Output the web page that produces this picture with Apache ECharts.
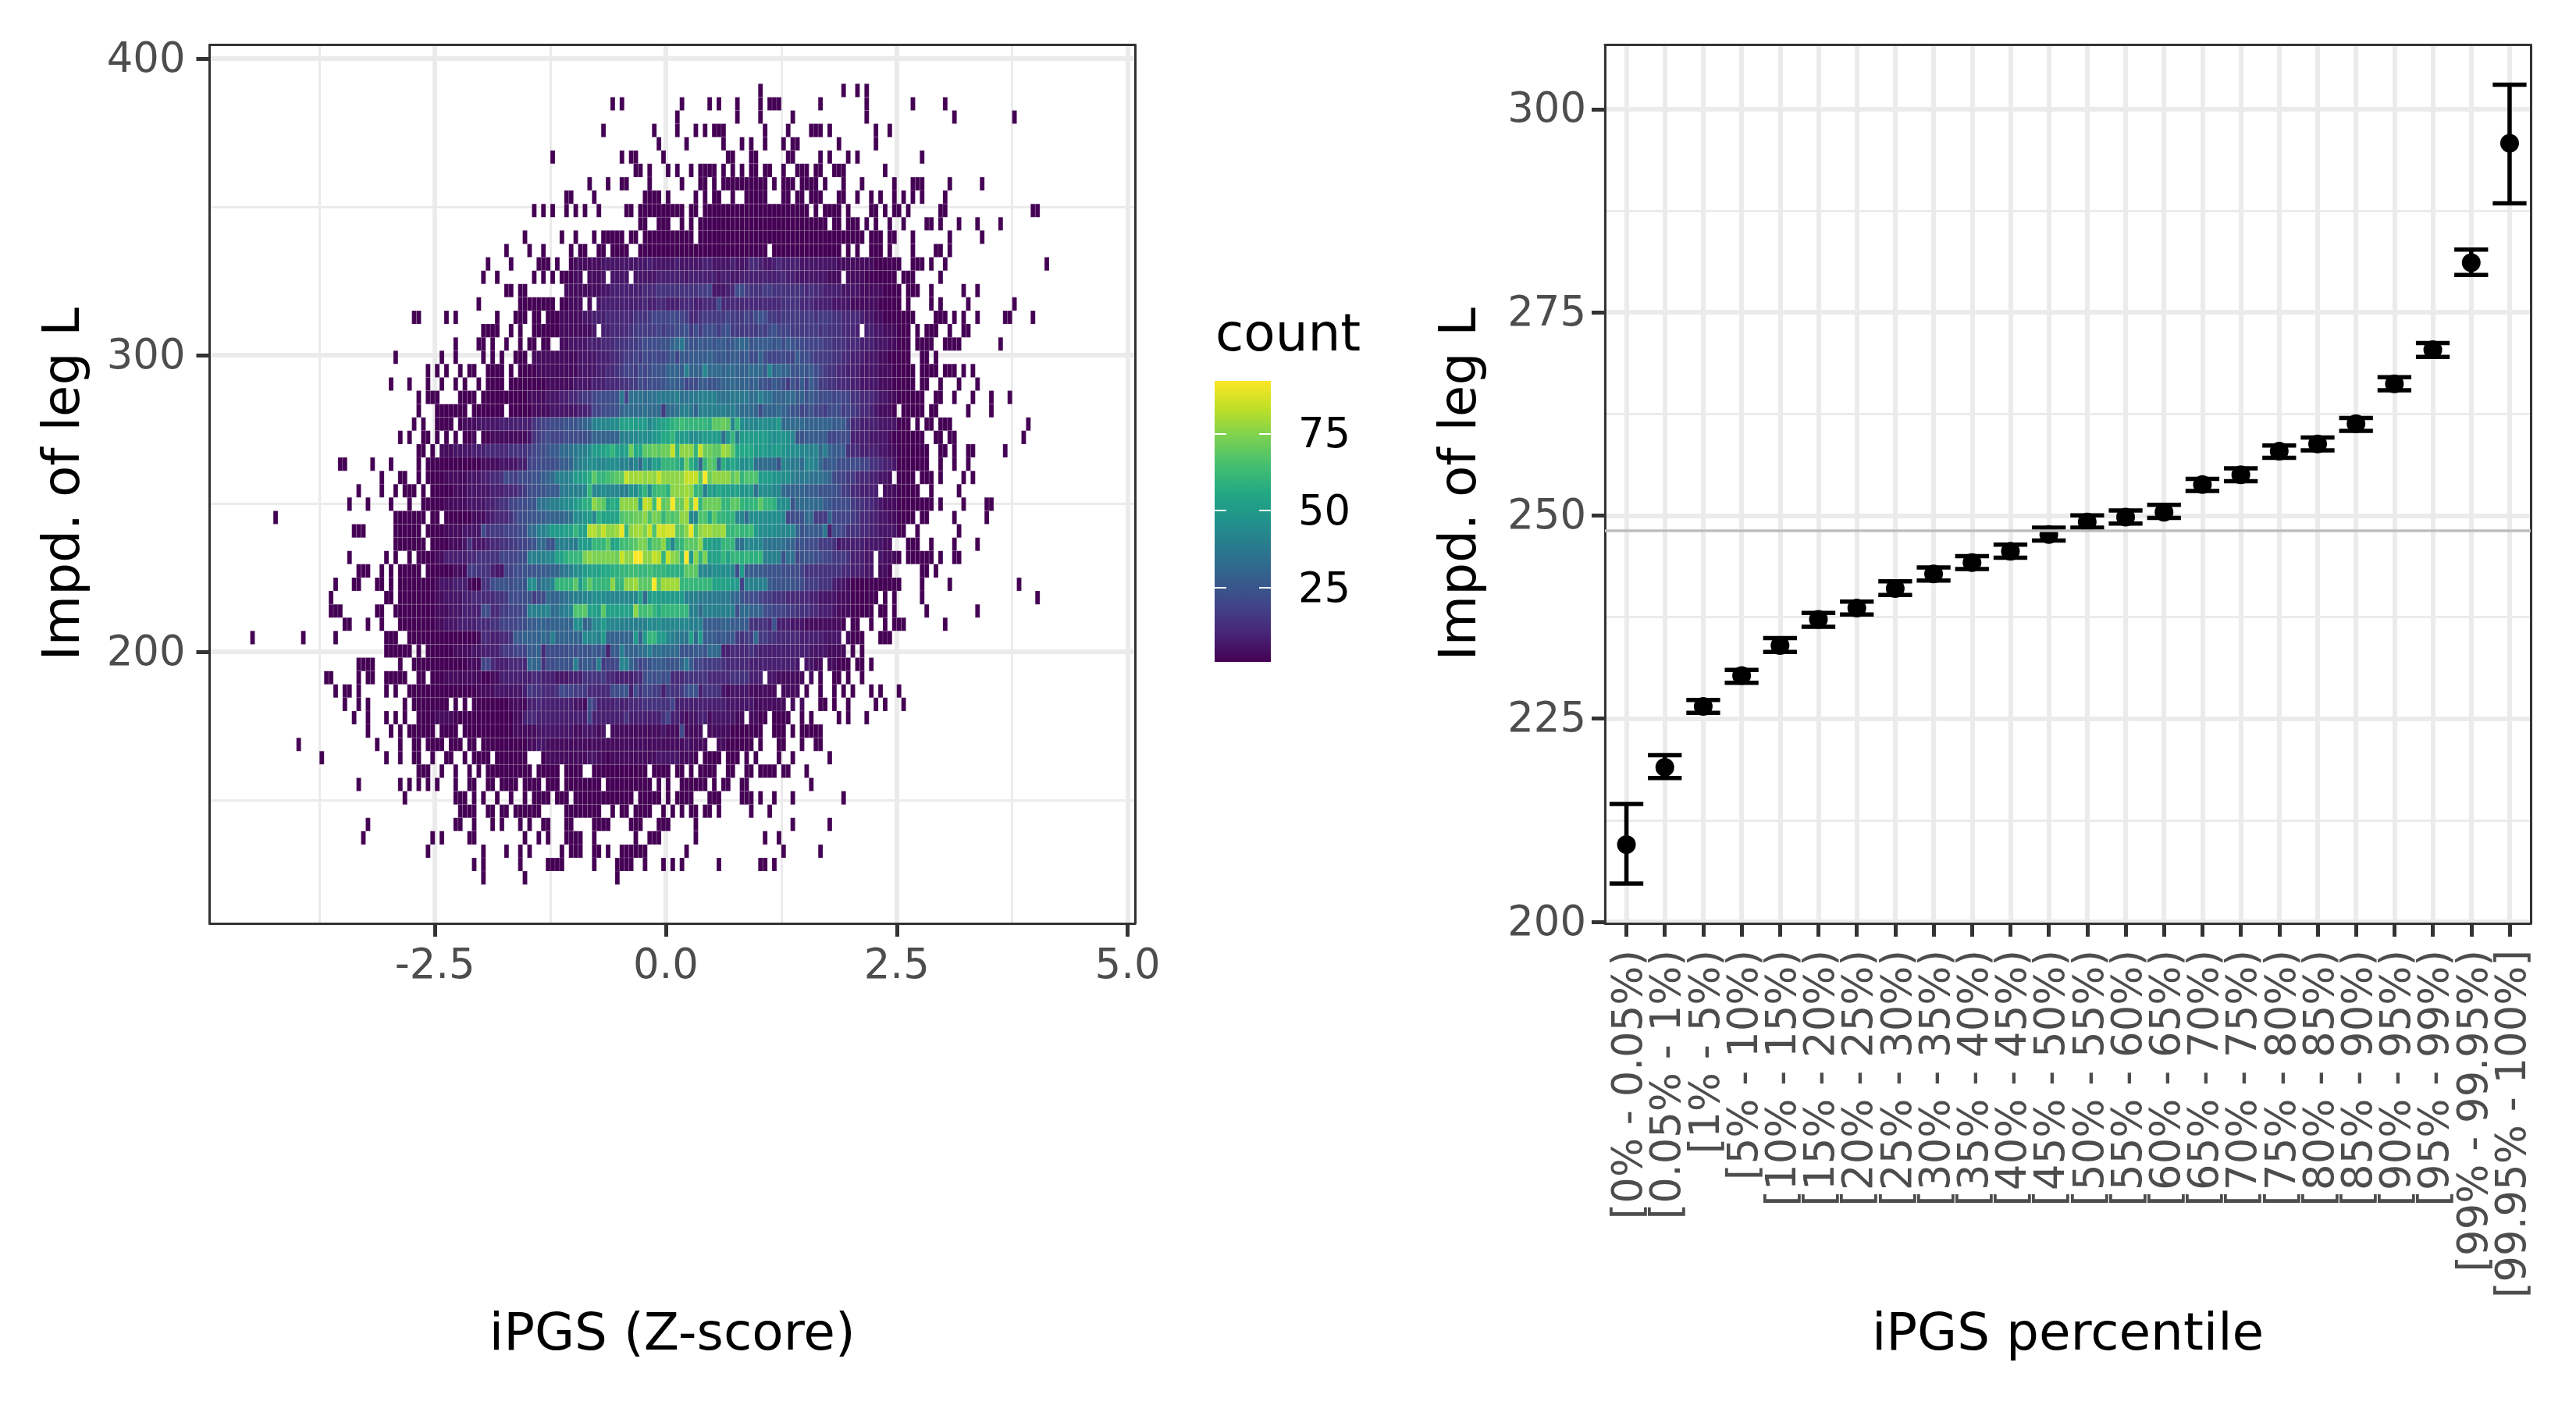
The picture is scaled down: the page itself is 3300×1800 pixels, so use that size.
<!DOCTYPE html>
<html>
<head>
<meta charset="utf-8">
<style>html,body{margin:0;padding:0;background:#fff}#c{width:3300px;height:1800px}</style>
<script src="https://cdn.jsdelivr.net/npm/echarts@6/dist/echarts.min.js"></script>
</head>
<body>
<div id="c"></div>
<script>
// ---------- right panel data ----------
const categories = ["[0% - 0.05%)","[0.05% - 1%)","[1% - 5%)","[5% - 10%)","[10% - 15%)","[15% - 20%)","[20% - 25%)","[25% - 30%)","[30% - 35%)","[35% - 40%)","[40% - 45%)","[45% - 50%)","[50% - 55%)","[55% - 60%)","[60% - 65%)","[65% - 70%)","[70% - 75%)","[75% - 80%)","[80% - 85%)","[85% - 90%)","[90% - 95%)","[95% - 99%)","[99% - 99.95%)","[99.95% - 100%]"];
const means  = [209.5,219.0,226.5,230.3,234.0,237.2,238.6,241.0,242.8,244.2,245.6,247.65,249.2,249.8,250.4,253.8,255.0,257.9,258.8,261.3,266.2,270.4,281.1,295.8];
const lowers = [204.7,217.7,225.7,229.4,233.2,236.3,237.8,240.2,242.0,243.4,244.8,246.9,248.5,249.0,249.7,253.0,254.2,257.1,258.0,260.4,265.4,269.5,279.6,288.4];
const uppers = [214.5,220.5,227.3,231.0,234.9,238.0,239.4,241.9,243.6,245.0,246.4,248.5,250.0,250.6,251.3,254.5,255.8,258.6,259.6,262.0,267.0,271.2,282.7,303.0];
const meanLine = 248.1;

// ---------- left panel data: bin geometry ----------
const binWidthX = 0.05, binHeightY = 4.5, topEdgeY = 391.5;
// filled columns of each row (top row first); column c spans [c*0.05,(c+1)*0.05]
const heatCells = [
"20 38 41 43",
"-12 -10 3 9 11 15 20 22 23 24 33 43 53 60",
"2 15 20 27 43 62 75",
"-14 -3 2 6 8 10 11 12 21 26 31 32 33 35 45 48",
"-2 4 12 16 18 21 25 27 28 37 45",
"-25 -10 -8 -7 -1 13 14 18 19 26 27 33 35 39 41 55",
"-7 -6 -4 0 2 5 7..10 12 14 16 18 19 21 22 25 28..30 32 33 36..38 47",
"-17 -13 -10 -9 -4 3 7 8 10 12..21 23 25..27 29..32 34 38 42 49 53..55 61 68",
"-22 -21 -16 -5..-2 0 6 8 10 11 14 17..21 25 26 28 29 31..33 37 38 41 44 46 49 51 53 55 60",
"-29 -27 -25 -22 -20 -18 -15 -9 -8 -6..3 5 6 8..30 32 34..37 39 44 45 47 49 50 52 59 60 79 80",
"-6 -5 -2..0 3 5 7..34 36 37 39..41 43 45 48 51 56 57 59 63 67 72",
"-31 -23 -20 -16 -14..-10 -8 -7 -5..5 7..42 44..46 48 49 53 61 68",
"-35 -30 -27 -21 -19 -18 -15 -14 -12..-9 -6..21 23..37 39 41 44..46 48 53 58 59 61",
"-39 -34 -28..-26 -24 -21..50 53..55 57 60 82",
"-40 -37 -29 -27 -25 -23..-19 -17..-14 -12..-9 -7..37 39..49 51..53 59",
"-35 -34 -32 -31 -22..50 52..54 57 64 67",
"-41 -32..-25 -23..-19 -17 -15..50 52 57 59 65 75",
"-55 -54 -48 -46 -37 -33..-31 -29 -28 -26..53 58..60 62 64 67 73 74 79",
"-40..-37 -34 -32 -29..-16 -14..41 43..52 54 56..58 61 64 65",
"-46 -41 -40 -38 -35 -32 -30 -29 -27 -26 -23..52 54..57 60..63 72",
"-59 -49 -46 -40 -38 -36 -33..-31 -29..52 55 56 58",
"-52 -50 -48 -45 -43 -42 -39..-36 -34 -32..53 55..58 60..62 64 66",
"-60 -56 -52 -49 -46 -44 -41 -39..-36 -34..53 55 56 59 63 67",
"-54 -52..-50 -45..-42 -40..55 58 59 62 66 70 74",
"-54 -50..-44 -42..-36 -34..49 51..55 57 58 65 70",
"-55 -53 -50..-47 -45..52 54 56 57 59..61 78",
"-58 -56 -53 -52 -50 -48 -46 -44..-42 -40..55 58 59 61 62 77",
"-54 -53 -51 -49..56 59 60 62 65 66 73",
"-71 -70 -64 -60 -54 -52..56 59 62 65",
"-62 -58 -57 -54 -52..48 50..53 55..57 59 64 66",
"-67 -62 -59 -57..-55 -53 -51..45 47..54 57 63",
"-69 -65 -60 -56 -53..57 59 64 69 70",
"-85 -59..-53 -51 -50 -48..53 55 56 62 69",
"-68..-66 -59..-54 -52..51 54 63",
"-59..-53 -51..48 52..54 57 62 67",
"-69 -61 -59 -56 -54..44 46..50 52..57 59 62 63",
"-67..-65 -62 -60 -58..-54 -52..44 46..48 55 56 58",
"-72 -68 -67 -63 -62 -60 -58..50 55 61 76",
"-73 -61 -60 -58..45 47 49 55 80",
"-73..-71 -63 -62 -59..44 46 47 49 56 67",
"-70 -69 -65 -62 -58..38 40 41 44 47 49..51 60",
"-90 -79 -72 -61..-59 -56..37 39..42 46..48",
"-61..-56 -54 -52..38 40 42",
"-67..-64 -58 -55..28 30..33 35..39 41 42 44",
"-74 -73 -67 -65 -64 -61..-57 -54 -53 -51..20 22..29 31 33 36 37 39 42",
"-72 -70 -69 -67 -61 -59 -56..23 25..28 30 33 36 38 40 44 46 50",
"-70 -67 -65 -57 -55..-48 -46 -44 -42..25 27 29 33 34 36 39 45 47 51",
"-68 -65 -61 -59 -57 -54..16 18..21 23..26 29 31 37 39 43",
"-65 -60 -58 -56..-51 -49..-46 -44..-14 -12..7 9..20 23..25 27 29..33",
"-80 -63 -58 -55 -54 -52..-49 -47..-45 -43 -42 -40..8 11..18 20 24 25 29 32 33",
"-75 -61 -58 -55 -54 -51 -48 -47 -44 -42..-39 -37..-31 -27..6 8..11 13..15 17 19 24 27 35",
"-54..-52 -49 -46 -43 -41 -39..-30 -28..-24 -22..-19 -16..-5 -3..0 2 3 5 7..10 13 14 17 18 20..23 25 26 30",
"-67 -58 -56 -54 -52 -50 -46 -43 -42 -39 -38 -36..-33 -31..-28 -26..-24 -22..-15 -13..-4 -2 0 3..8 10 12 13 16 17 31",
"-57 -46..-44 -42 -40 -37 -34 -31 -29..-26 -24..-22 -20..-8 -6..-2 0 2..5 9..11 16..18 20 23 27 38",
"-45..-42 -39 -38 -36 -35 -33..-28 -22..-15 -12 -10 -9 -7..-4 -1 1 3 5 6 8 9 11 18 22",
"-65 -46 -45 -42 -38 -36 -32 -30 -27 -26 -22 -21 -16..-13 -8..-6 -2..0 6 27 35",
"-66 -51 -49 -43 -42 -31 -28 -26 -22..-19 -16 -7 -4..-2 6 21 24",
"-52 -40 -35 -32 -30 -23 -21..-19 -16 -15 -13 -10..-5 4 25 33",
"-42 -40 -32 -26..-23 -16 -11..-8 -5 -1 1 3 11 20 21 23",
"-40 -31 -11"
];
// colour level read per cell, base-36 (0 = 1 count ... z = 92 counts);
// each word is ten columns, first word starts at column -50
const levelStep = 2.6;
const heatLevels = {
13:"0000000000 0000000000 0000000000 1111112222 2222223222 2232222233 2222322244 3223433332 2222222111 1111100000",
14:"0000000000 0000000000 0000000000 1111112222 2222222233 3333233333 3233223333 3333343322 2222211111 1110000000",
15:"0000000000 0000000000 0000000011 1111112233 3333344455 5555555667 2223488655 5665555555 4544333322 2211111000",
16:"0000000000 0000000000 0000000001 1111223333 3333343344 3334443344 4844444444 4444455554 4433332222 1111110000",
17:"0000000000 0000000000 0000000111 1122333444 4445556777 7877644566 6667666768 9866566666 6656665544 4432211000",
18:"0000000000 0000000000 0000000111 1111223344 4456666676 7788968688 8689666666 7689777666 6665655544 4333322111",
19:"0000000000 0000000000 0000001112 2223334445 5566788889 9bcea99a9a 9aa9abcb9a aaa9a8a988 7777665554 4433322211",
20:"0000000000 0000000000 0111111111 1222233344 5667687877 8a7a9aaaab a9a9aa9a88 b8777877a8 8766665544 3332221100",
21:"0000000000 0000000000 0011111111 1222233445 6776878999 bbbafbbbgc ccbccbbbcc cagbcbb99a 9a87655443 3322221110",
22:"0000000000 0000000000 0000111111 2222333444 5566878889 abaa788aa9 9abbcbbbab 998a98697a 7a86655444 3322221110",
23:"0000000000 0000000000 1111222334 4566788889 e7dddcddee eefddeefff fdddeeeecd fddbbbccab 9a98887877 5544432211",
24:"0000000000 0000000000 0111122222 2334778889 bccccdccc6 ccdffebfff fffefdcccb 8bbbcba997 8977688867 6544321110",
25:"0000001112 2222333333 3567788899 9abcfggghh kkkjjjgijk lmnonnnnnm qqrqgnhggg hhhhjccccc bbbbbbaaa7 4433332222",
26:"0000000011 0011111111 2567877788 8889bbbbbb ffgghhhijl lnjjjhhijj jjdinfjjjj jjihiihg99 aaaaa77888 3333222210",
27:"0111222233 3444445555 67889aaccd effhjjklnk jkrllqqrqr rwntttnwrr qqutqllllj jjijjihhhg gfgcfbaaa5 4433332211",
28:"0000000000 1111222233 7788889aab efghhgghhh fgegcjgkjn nnmkrmjcnq pdmjljhhjd cccc9gfeec ggfc9aa888 8877554332",
29:"0011111222 3344587688 899abcfffg jjkmqnnopq qwuuututwt ttttwwwqzr ttttqsnppp jjjiihhfee edddcb8776 6444332211",
30:"0000111222 2233344456 8899aaaeef ffgngghggg ffihknhnoo mtttutnnfk jlkkjkiijd hhhggcbbbb aaa9999866 4433332111",
31:"0011111222 2334557788 99ddeffghh jkmmtrqkml ttttkwvoyq rzrrwqynrr rrnnqqnmnn qnnmhhh9cc cccca98888 6554432111",
32:"0000000011 1234445788 99aabbbbcd hhijgmkkkk pqqrrtpsrn qpqttggppl qnnmnggchh hhhhhg7889 cc666b7777 6544332211",
33:"0011112222 8566677788 ccffhjjjkk nkkvvtwttu yntuuswpxw xxqqtyptuu ttunnonnoj hhhhggggb9 aaaae38875 5544332222",
34:"0001112522 2344556677 89cc99ffff ejjjnnnqkl oopqssnqqt mgnnqqqtkk jjnnnddggg gdddddbb89 8886665233 3332222111",
35:"1133333445 5555777788 ffffggkkmn nnstsssssr wttzzttwvn wtsnzjtnsk kknknnmnmm nffff9dd79 9988776665 3332222111",
36:"0000111665 5532277889 99aaabbdef hhjkkkllmm nnoonnonnn mmmmqqqggg hhhhg8jaaa a999988887 5555555544 3332221100",
37:"1222333100 5589998999 hhceegnnnn qjnqnnnntn nttuqqqzqu uuunnnnnnn kkkkjj7fff ffa9999988 6665553221",
38:"1122223344 4445568888 9688cbbcde ffgghhhggg ggggkcjkjj jjjjfffeee eeeecb9888 7665554444 4332222111",
39:"1112223333 8844667778 ffffgcdefg ppqkkjqkkk kkktoopnln nnnnnffcff fffff8ccbb b887776655 5443332111",
40:"1122233334 4455777788 aabbabbbbb hhbcghjggg ffffffhghg gggggfffaa aabbaaaa55 5549333222 1111111100",
41:"0000000001 4433445aab bbbcbfbbbb bbhggfjbbb bbbjbjnnjj gfeedkcjaa a9a9a6566c 6655444443 3333222211",
42:"0000111122 3333566777 aab4888889 8999a9a3aa fbbbcdfcdc ccc999aa9c cc33444454 3333333333 3222211111",
43:"0000000111 7743334444 cbb5889999 f9aa9f6778 gfb9789aaa 999bea7766 6654444433 3333333322 2211111000",
44:"0011111111 0011333333 3443332223 3355556443 3334489898 9444555554 4444555533 3222111111 1100000000",
45:"0000000001 1112222223 6554445877 6664444488 9938577663 6556899355 5521222211 1111111111",
46:"0000000000 0000001111 3343333333 2218633334 3344455555 5733333333 3332222221 1111111111",
47:"1111000000 0000000113 4433333333 3337333333 3533333335 7332122331 2222211211",
48:"0000000000 0000000111 1122222222 1122212211 1111111112 1118111111 1111000000",
49:"0000000000 0000000000 1122111111 1111111111 1111111111 1111211111 1110000000",
50:"0000000000 0000000000 0000111111 1112211011 1111111122 2221110000"
};

// ---------- tick / scale lists ----------
const leftXMajor = [-2.5,0,2.5,5];
const leftXMinor = [-3.75,-1.25,1.25,3.75];
const leftYMajor = [200,300,400];
const leftYMinor = [150,250,350];
const rightYMajor = [200,225,250,275,300];
const rightYMinor = [212.5,237.5,262.5,287.5];
const legendTicks = [25,50,75];
const countMin = 1, countMax = 92;
const viridis = ["#440154","#482475","#414487","#355f8d","#2a788e","#21918c","#22a884","#44bf70","#7ad151","#bddf26","#fde725"];

// ---------- decode the hand-read rows ----------
function levelAt(row, col){
  const words = heatLevels[row];
  if(!words) return 0;
  const w = words.split(' ')[Math.floor((col+50)/10)];
  if(col < -50 || !w) return 0;
  const ch = w[(col+50)%10];
  return ch ? parseInt(ch,36) : 0;
}
const heatData = [];
heatCells.forEach((line,row)=>{
  line.split(' ').forEach(tok=>{
    const p = tok.split('..').map(Number);
    const a = p[0], b = p.length>1 ? p[1] : p[0];
    for(let c=a;c<=b;c++){
      heatData.push([(c+0.5)*binWidthX, topEdgeY-binHeightY*(row+0.5), 1+levelStep*levelAt(row,c)]);
    }
  });
});

const FONT = "'DejaVu Sans'";
const GREY = "#4D4D4D", DARK = "#333333", GRID = "#EBEBEB";
const TITLE = 66, TICK = 52.8;
const xTickVals = categories.map((_,i)=>i+1);

function mainAxis(extra){
  return Object.assign({
    type:'value', silent:true,
    axisLine:{show:true,onZero:false,lineStyle:{color:DARK,width:3}},
    axisTick:{show:true,length:17,lineStyle:{color:DARK,width:5}},
    axisLabel:{show:true,fontFamily:FONT,fontSize:TICK,color:GREY,margin:30,hideOverlap:false},
    splitLine:{show:true,lineStyle:{color:GRID,width:6}},
    nameLocation:'middle',
    nameTextStyle:{fontFamily:FONT,fontSize:TITLE,color:'#000'}
  },extra);
}
function minorAxis(extra,vals){
  return Object.assign({
    type:'value', silent:true,
    axisLine:{show:true,onZero:false,lineStyle:{color:DARK,width:3}},
    axisTick:{show:false,customValues:vals},
    axisLabel:{show:false,customValues:vals},
    splitLine:{show:true,lineStyle:{color:GRID,width:3}}
  },extra);
}
function withCustom(ax,vals){ ax.axisTick.customValues=vals; ax.axisLabel.customValues=vals; return ax; }

const option = {
  animation:false,
  backgroundColor:'#fff',
  textStyle:{fontFamily:FONT},
  title:{text:'count',left:1552,top:394,textStyle:{fontFamily:FONT,fontSize:TITLE,fontWeight:'normal',color:'#000'}},
  grid:[
    {left:268.5,top:57.5,width:1185.5,height:1125.5},
    {left:2056,top:57.5,width:1186,height:1125.5},
    {left:1556,top:488,width:72,height:360},
    {left:2058.9,top:57.5,width:1180.8,height:1125.5}
  ],
  visualMap:[{show:false,type:'continuous',seriesIndex:0,dimension:2,min:countMin,max:countMax,inRange:{color:viridis}}],
  xAxis:[
    withCustom(mainAxis({gridIndex:0,min:-4.94,max:5.08,name:'iPGS (Z-score)',nameGap:496,position:'bottom'}),leftXMajor),
    minorAxis({gridIndex:0,min:-4.94,max:5.08,position:'top'},leftXMinor),
    withCustom(mainAxis({gridIndex:1,min:0.44,max:24.55,name:'iPGS percentile',nameGap:496,position:'bottom',splitLine:{show:true,lineStyle:{color:GRID,width:6}}}),xTickVals),
    minorAxis({gridIndex:1,min:0.44,max:24.55,position:'top',splitLine:{show:false}},[]),
    {type:'category',gridIndex:2,data:['count'],show:false},
    {type:'category',gridIndex:3,data:categories,position:'bottom',silent:true,boundaryGap:true,
      axisLine:{show:false},splitLine:{show:false},
      axisTick:{show:true,alignWithLabel:true,interval:0,length:17,lineStyle:{color:DARK,width:5}},
      axisLabel:{show:true,interval:0,rotate:90,margin:34,fontFamily:FONT,fontSize:TICK,color:GREY,hideOverlap:false,verticalAlign:'top',lineHeight:12}}
  ],
  yAxis:[
    withCustom(mainAxis({gridIndex:0,min:108.4,max:404.6,name:'Impd. of leg L',nameGap:152,position:'left'}),leftYMajor),
    minorAxis({gridIndex:0,min:108.4,max:404.6,position:'right'},leftYMinor),
    withCustom(mainAxis({gridIndex:1,min:199.8,max:307.9,name:'Impd. of leg L',nameGap:150,position:'left'}),rightYMajor),
    minorAxis({gridIndex:1,min:199.8,max:307.9,position:'right'},rightYMinor),
    {type:'value',gridIndex:2,min:countMin,max:countMax,position:'right',z:6,silent:true,
      axisLine:{show:false},splitLine:{show:false},
      axisTick:{show:true,inside:true,length:15,lineStyle:{color:'#fff',width:2},customValues:legendTicks},
      axisLabel:{show:true,customValues:legendTicks,margin:35,fontFamily:FONT,fontSize:TICK,color:'#000',verticalAlign:'top',lineHeight:8}},
    {type:'value',gridIndex:2,min:countMin,max:countMax,position:'left',z:6,silent:true,
      axisLine:{show:false},splitLine:{show:false},
      axisTick:{show:true,inside:true,length:15,lineStyle:{color:'#fff',width:2},customValues:legendTicks},
      axisLabel:{show:false,customValues:legendTicks}},
    {type:'value',gridIndex:3,min:199.8,max:307.9,show:false}
  ],
  series:[
    {
      type:'custom',name:'count',xAxisIndex:0,yAxisIndex:0,data:heatData,
      dimensions:['x','y','count'],encode:{x:0,y:1},
      progressive:0,silent:true,clip:true,
      renderItem:function(params,api){
        const x=api.value(0),y=api.value(1);
        const a=api.coord([x-binWidthX/2,y+binHeightY/2]);
        const b=api.coord([x+binWidthX/2,y-binHeightY/2]);
        return {type:'rect',shape:{x:a[0],y:a[1],width:b[0]-a[0],height:b[1]-a[1]},
          style:{fill:api.visual('color'),stroke:'rgba(255,255,255,0.17)',lineWidth:0.8}};
      }
    },
    {
      type:'custom',name:'ci',xAxisIndex:2,yAxisIndex:2,
      data:categories.map((_,i)=>[i+1,lowers[i],uppers[i]]),
      encode:{x:0,y:[1,2]},silent:true,progressive:0,
      renderItem:function(params,api){
        const x=api.value(0),lo=api.value(1),hi=api.value(2);
        const s={stroke:'#000',lineWidth:5.5,fill:null};
        const p0=api.coord([x,lo]),p1=api.coord([x,hi]);
        const l0=api.coord([x-0.44,lo]),r0=api.coord([x+0.44,lo]);
        const l1=api.coord([x-0.44,hi]),r1=api.coord([x+0.44,hi]);
        return {type:'group',children:[
          {type:'line',shape:{x1:p0[0],y1:p0[1],x2:p1[0],y2:p1[1]},style:s},
          {type:'line',shape:{x1:l0[0],y1:l0[1],x2:r0[0],y2:r0[1]},style:s},
          {type:'line',shape:{x1:l1[0],y1:l1[1],x2:r1[0],y2:r1[1]},style:s}
        ]};
      },
      markLine:{silent:true,symbol:'none',label:{show:false},animation:false,
        lineStyle:{color:'#BEBEBE',width:3.5,type:'solid'},data:[{yAxis:meanLine}]}
    },
    {
      type:'scatter',name:'mean',xAxisIndex:2,yAxisIndex:2,silent:true,
      data:categories.map((_,i)=>[i+1,means[i]]),
      symbol:'circle',symbolSize:24,itemStyle:{color:'#000',opacity:1}
    },
    {
      type:'bar',name:'legend',xAxisIndex:4,yAxisIndex:4,silent:true,
      data:[countMax],barWidth:'100%',
      itemStyle:{color:new echarts.graphic.LinearGradient(0,1,0,0,viridis.map((c,i)=>({offset:i/(viridis.length-1),color:c})))}
    },
    {
      // keeps the label axis of the percentile panel bound to its categories
      type:'line',name:'labels',xAxisIndex:5,yAxisIndex:6,silent:true,
      data:categories.map(()=>null),showSymbol:false
    }
  ]
};
const chart = echarts.init(document.getElementById('c'),null,{renderer:'canvas',width:3300,height:1800});
// labels and ticks of the percentile panel come from the category axis
Object.assign(option.xAxis[2].axisLabel,{show:false});
Object.assign(option.xAxis[2].axisTick,{show:false});
option.xAxis[0].axisLabel.formatter=v=>v.toFixed(1);
Object.assign(option.yAxis[0].axisLabel,{margin:31,verticalAlign:'top',lineHeight:6});
Object.assign(option.yAxis[2].axisLabel,{margin:24,verticalAlign:'top',lineHeight:6});
chart.setOption(option);
</script>
</body>
</html>
